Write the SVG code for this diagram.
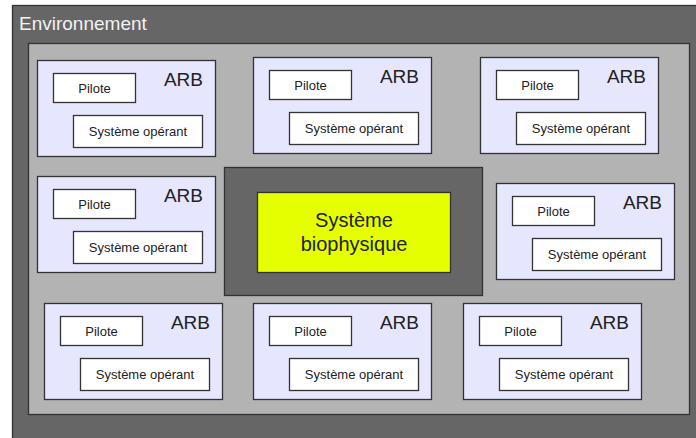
<svg xmlns="http://www.w3.org/2000/svg" width="696" height="438" viewBox="0 0 696 438">
<defs>
<style>
text{font-family:"Liberation Sans",Arial,sans-serif;fill:#222}
.frame{stroke:#333;stroke-width:1.3}
.arb{fill:#e6e6ff;stroke:#333;stroke-width:1.3}
.sub{fill:#fff;stroke:#333;stroke-width:1.3}
.lbl{font-size:13px;text-anchor:middle}
.arbt{font-size:19px;text-anchor:end}
</style>
<g id="arbTpl">
<rect class="arb" x="0.5" y="0.5" width="178" height="96"/>
<text class="arbt" x="166" y="26">ARB</text>
<rect class="sub" x="16.5" y="13.5" width="82" height="29"/>
<text class="lbl" x="57.5" y="33">Pilote</text>
<rect class="sub" x="36.5" y="55.5" width="129" height="32"/>
<text class="lbl" x="101" y="76">Système opérant</text>
</g>
</defs>
<rect width="696" height="438" fill="#fff"/>
<g id="environnement">
<rect class="frame" x="12.5" y="5.5" width="700" height="450" fill="#666"/>
<text x="19" y="30" style="font-size:19px;fill:#f2f2f2">Environnement</text>
<rect class="frame" x="28.5" y="43.5" width="661" height="371" fill="#b3b3b3"/>
</g>
<g id="noyau">
<rect class="frame" x="224.5" y="167.5" width="258" height="128" fill="#666"/>
<rect class="frame" x="257.5" y="192.5" width="193" height="80" fill="#e5ff00"/>
<text x="354" y="227" style="font-size:20px;text-anchor:middle">Système</text>
<text x="354" y="251" style="font-size:20px;text-anchor:middle">biophysique</text>
</g>
<g id="arb1" transform="translate(37,60)"><use href="#arbTpl"/></g>
<g id="arb2" transform="translate(253,57)"><use href="#arbTpl"/></g>
<g id="arb3" transform="translate(480,57)"><use href="#arbTpl"/></g>
<g id="arb4" transform="translate(37,176)"><use href="#arbTpl"/></g>
<g id="arb5" transform="translate(496,183)"><use href="#arbTpl"/></g>
<g id="arb6" transform="translate(44,303)"><use href="#arbTpl"/></g>
<g id="arb7" transform="translate(253,303)"><use href="#arbTpl"/></g>
<g id="arb8" transform="translate(463,303)"><use href="#arbTpl"/></g>
<g id="connectors"/>
</svg>
